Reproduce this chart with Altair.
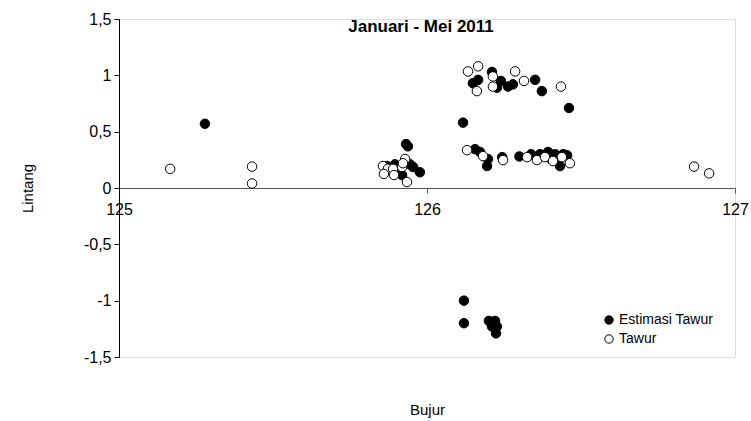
import altair as alt
import pandas as pd

# Estimasi Tawur (filled)
est_x = [125.279, 125.870, 125.896, 125.906, 125.945, 125.955, 125.977, 125.932, 125.938, 125.919,
         126.117, 126.156, 126.172, 126.198, 126.195, 126.244, 126.300, 126.338, 126.367, 126.393,
         126.403, 126.416, 126.442, 126.432, 126.455,
         126.149, 126.166, 126.211, 126.227, 126.240, 126.263, 126.279, 126.351, 126.373, 126.461,
         126.120, 126.120, 126.201, 126.221, 126.227, 126.211, 126.224]
est_y = [0.57, 0.195, 0.21, 0.14, 0.21, 0.186, 0.14, 0.39, 0.37, 0.115,
         0.58, 0.345, 0.32, 0.257, 0.195, 0.274, 0.28, 0.30, 0.30, 0.32,
         0.257, 0.30, 0.30, 0.195, 0.29,
         0.93, 0.96, 1.03, 0.89, 0.95, 0.90, 0.92, 0.96, 0.86, 0.71,
         -1.0, -1.20, -1.18, -1.18, -1.23, -1.23, -1.29]

# Tawur (open)
taw_x = [125.166, 125.432, 125.432, 126.867, 126.916,
         125.857, 125.873, 125.860, 125.890, 125.919, 125.929, 125.922, 125.935, 125.893,
         126.130, 126.182, 126.247, 126.325, 126.357, 126.383, 126.409, 126.438, 126.464,
         126.133, 126.166, 126.162, 126.214, 126.214, 126.286, 126.315, 126.435]
taw_y = [0.17, 0.19, 0.04, 0.19, 0.13,
         0.195, 0.17, 0.125, 0.17, 0.186, 0.257, 0.22, 0.053, 0.115,
         0.336, 0.283, 0.248, 0.274, 0.248, 0.274, 0.239, 0.274, 0.22,
         1.035, 1.08, 0.86, 0.99, 0.90, 1.035, 0.95, 0.90]

series = ["Estimasi Tawur", "Tawur"]
x_domain = [125, 127]
y_ticks = [-1.5, -1, -0.5, 0, 0.5, 1, 1.5]

df = pd.DataFrame({
    "Bujur": est_x + taw_x,
    "Lintang": est_y + taw_y,
    "Seri": [series[0]] * len(est_x) + [series[1]] * len(taw_x),
})

FONT = "Liberation Sans"

chart = alt.Chart(df).mark_point(
    filled=True, stroke="black", strokeWidth=1, size=90, shape="circle", opacity=1
).encode(
    x=alt.X("Bujur:Q",
            scale=alt.Scale(domain=x_domain, nice=False, zero=False),
            axis=alt.Axis(tickCount=2, grid=False, offset=-169,
                          domainColor="#555", tickColor="#555", tickSize=5,
                          labelPadding=8, labelFontSize=16, labelFont=FONT,
                          labelColor="black", labelFlush=False, labelOverlap=False,
                          labelBound=False,
                          title="Bujur", titleFont=FONT, titleFontSize=15,
                          titleFontWeight="normal", titleColor="black",
                          titleY=221, titleBaseline="middle")),
    y=alt.Y("Lintang:Q",
            scale=alt.Scale(domain=[-1.5, 1.5], nice=False, zero=False),
            axis=alt.Axis(values=y_ticks, grid=False,
                          labelExpr="(datum.value < 0 ? '-' : '') + replace(format(abs(datum.value), '~g'), '.', ',')",
                          domainColor="black", tickColor="black", tickSize=5,
                          labelPadding=3, labelFontSize=16, labelFont=FONT,
                          labelColor="black", labelOverlap=False,
                          title="Lintang", titleFont=FONT, titleFontSize=15,
                          titleFontWeight="normal", titleColor="black",
                          titleX=-92, titleY=169, titleAlign="center",
                          titleBaseline="middle")),
    fill=alt.Fill("Seri:N",
                  scale=alt.Scale(domain=series, range=["black", "white"]),
                  legend=alt.Legend(title=None, orient="none", legendX=483, legendY=294,
                                    symbolType="circle", symbolSize=70,
                                    symbolStrokeColor="black", symbolStrokeWidth=1,
                                    labelFont=FONT, labelFontSize=14, labelColor="black",
                                    rowPadding=5, labelOffset=3)),
).properties(
    width=616,
    height=338,
    title=alt.TitleParams("Januari - Mei 2011", font=FONT, fontSize=17,
                          fontWeight="bold", color="black", anchor="middle",
                          offset=-25, dx=-6),
    padding={"left": 119, "top": 19, "right": 16, "bottom": 64},
    autosize=alt.AutoSizeParams(type="none"),
).configure_view(stroke=None).configure(background="white")

chart.save("out.html", embed_options={"renderer": "svg", "actions": False})
